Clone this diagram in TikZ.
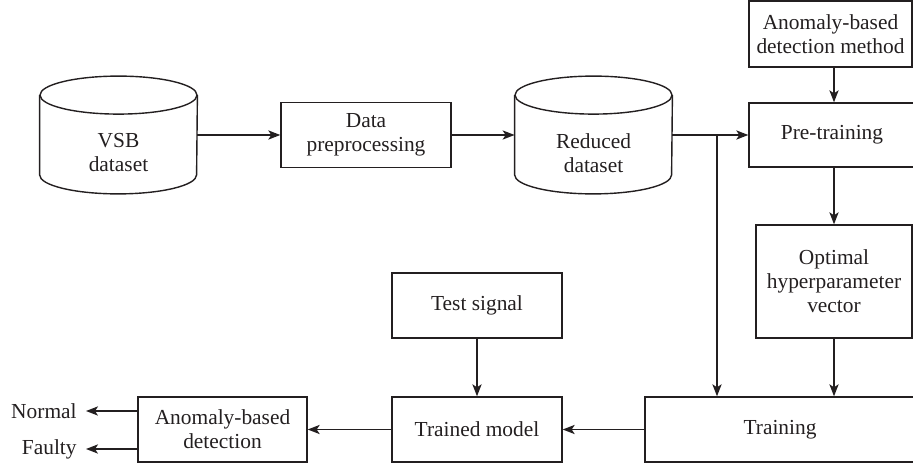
\documentclass[tikz,border=0pt]{standalone}
\usepackage{fontspec}
\setmainfont{Liberation Serif}
\usetikzlibrary{calc,arrows.meta}

\definecolor{ink}{HTML}{231F20}

\tikzset{
	box/.style={draw=ink, line width=0.7pt, text=ink, align=center, inner sep=0pt,
		minimum width=85pt, minimum height=32.5pt, font=\fontsize{10.7}{12}\selectfont},
	store/.style={inner sep=0pt, minimum width=78.5pt, minimum height=58.5pt},
	storetext/.style={text=ink, align=center, inner sep=0pt, yshift=-9pt, font=\fontsize{10.7}{12}\selectfont},
	outtext/.style={text=ink, inner xsep=4.5pt, inner ysep=0pt, font=\fontsize{10.7}{12}\selectfont},
	arr/.style={draw=ink, line width=0.7pt, -{Stealth[length=6pt,width=4.6pt,inset=1.5pt]}},
}

% outline of a database drum round a node
\newcommand{\dbcyl}[1]{%
	\draw[ink, line width=0.7pt] ($(#1.north west)+(0,-9.5pt)$) -- ($(#1.south west)+(0,9.5pt)$)
		arc[start angle=180, end angle=360, x radius=39.25pt, y radius=9.5pt]
		-- ($(#1.north east)+(0,-9.5pt)$);
	\draw[ink, line width=0.7pt] ($(#1.north)+(0,-9.5pt)$) ellipse[x radius=39.25pt, y radius=9.5pt];
}

\begin{document}
\begin{tikzpicture}[x=0.5pt,y=0.5pt]
	\useasboundingbox (0,0) rectangle (913,466);

	\node[store, label={[storetext]center:VSB\\dataset}] (vsb) at (118.5,331) {};
	\node[box] (prep) at (366,331) {Data\\preprocessing};
	\node[store, label={[storetext]center:Reduced\\dataset}] (red) at (593.5,331) {};
	\node[box, minimum width=81.5pt, minimum height=33pt] (method) at (830.5,432) {Anomaly-based\\detection method};
	\node[box, minimum width=83pt, minimum height=32pt] (pretrain) at (832,331) {Pre-training};
	\node[box, minimum width=78pt, minimum height=56.5pt] (optimal) at (834,184.5) {Optimal\\hyperparameter\\vector};
	\node[box, minimum width=135pt] (train) at (780,36.5) {Training};
	\node[box] (model) at (477,36.5) {Trained model};
	\node[box] (test) at (477,160.5) {Test signal};
	\node[box, minimum width=84.5pt] (detect) at (222.5,36.5) {Anomaly-based\\detection};
	\node[outtext, anchor=east] (normal) at (86,55) {Normal};
	\node[outtext, anchor=east] (faulty) at (86,17) {Faulty};
	\coordinate (split) at (717,331);

	\dbcyl{vsb}
	\dbcyl{red}

	\draw[arr] (vsb.east) -- (prep.west);
	\draw[arr] (prep.east) -- (red.west);
	\draw[arr] (red.east) -- (pretrain.west);
	\draw[arr] (split) -- (split |- train.north);
	\draw[arr] (method.south -| optimal.north) -- (pretrain.north -| optimal.north);
	\draw[arr] (pretrain.south -| optimal.north) -- (optimal.north);
	\draw[arr] (optimal.south) -- (optimal.south |- train.north);
	\draw[arr] (test.south) -- (model.north);
	\draw[arr] (train.west) -- (model.east);
	\draw[arr] (model.west) -- (detect.east);
	\draw[arr] (detect.west |- normal.east) -- (normal.east);
	\draw[arr] (detect.west |- faulty.east) -- (faulty.east);
\end{tikzpicture}
\end{document}
